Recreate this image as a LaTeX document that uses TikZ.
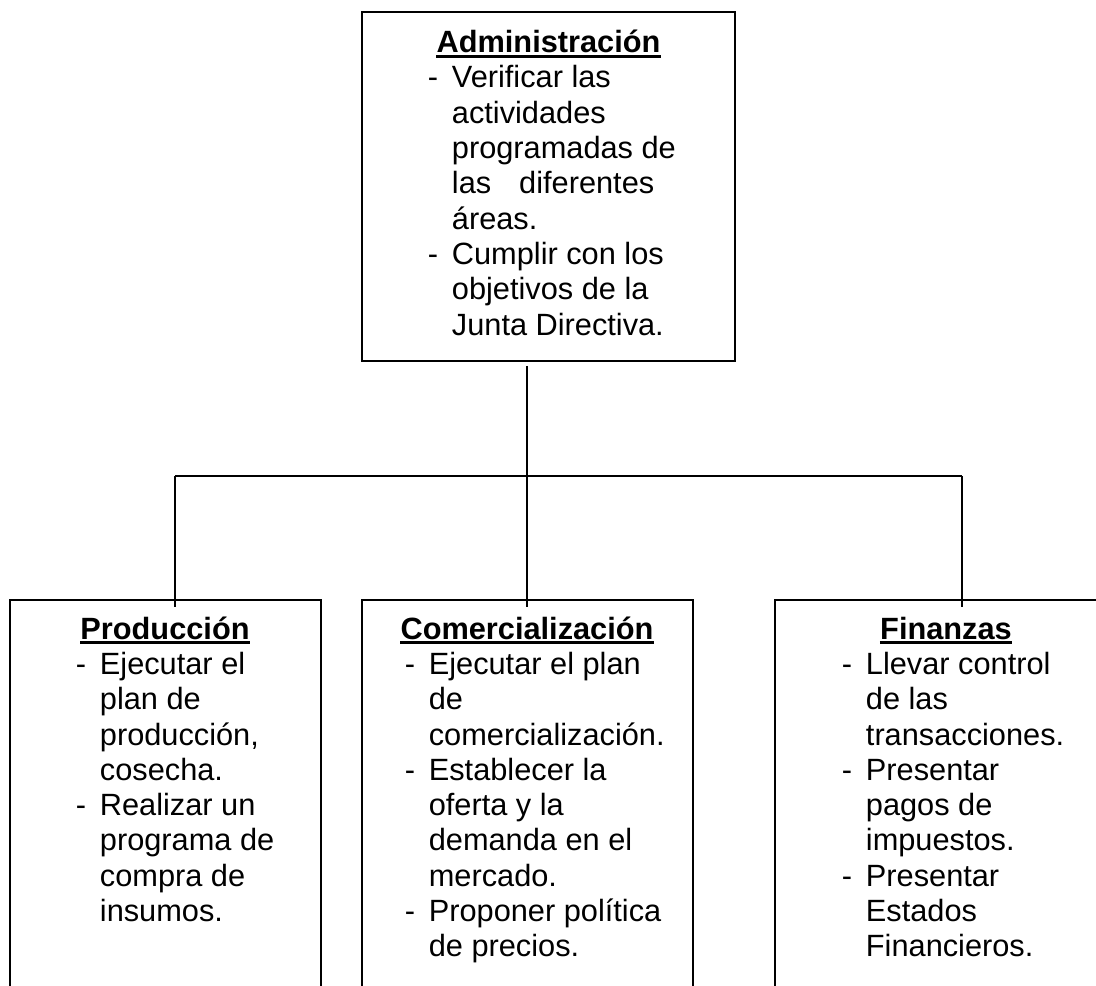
\documentclass[tikz,border=0pt]{standalone}
\usepackage{fontspec}
\setmainfont{Liberation Sans}
\usepackage{tikz}
\usetikzlibrary{calc}
\tikzset{
  caja/.style = {rectangle, draw=black, line width=1pt, inner sep=0pt,
    outer sep=0pt, anchor=north west},% recuadro de cada area
  titulo/.style = {anchor=base, inner sep=0pt,
    font=\fontsize{17.5}{20.1}\selectfont\bfseries},% nombre del area
  lista/.style = {anchor=base west, inner sep=0pt,
    font=\fontsize{17.5}{20.1}\selectfont},% funciones
  subraya/.style = {line width=1.4pt},
  rama/.style = {line width=0.8pt}
}
\newcommand{\guion}{\makebox[0.48cm][l]{-}}
\newcommand{\sangria}{\hspace*{0.48cm}}

\begin{document}
\begin{tikzpicture}[x=0.02cm, y=-0.02cm]
\useasboundingbox (0,0) rectangle (1096,986);
\clip (0,0) rectangle (1096,986);

% recuadros
\node [caja, minimum width=7.46cm, minimum height=6.98cm] (adm) at (362,12) {};
\node [caja, minimum width=6.22cm, minimum height=8.4cm] (prod) at (10,600) {};
\node [caja, minimum width=6.62cm, minimum height=8.4cm] (com) at (362,600) {};
\node [caja, minimum width=7cm, minimum height=8.4cm] (fin) at (775,600) {};

% titulos
\node [titulo] (adm_t) at (548.5,53) {Administración};
\node [titulo] (prod_t) at (165,639) {Producción};
\node [titulo] (com_t) at (527,639) {Comercialización};
\node [titulo] (fin_t) at (946,639) {Finanzas};
\draw [subraya] ([yshift=-1.9pt]adm_t.base west) -- ([yshift=-1.9pt]adm_t.base east);
\draw [subraya] ([yshift=-1.9pt]prod_t.base west) -- ([yshift=-1.9pt]prod_t.base east);
\draw [subraya] ([yshift=-1.9pt]com_t.base west) -- ([yshift=-1.9pt]com_t.base east);
\draw [subraya] ([yshift=-1.9pt]fin_t.base west) -- ([yshift=-1.9pt]fin_t.base east);

% funciones
\node [lista] (adm_l) at (427.6,88) {\begin{tabular}[t]{@{}l@{}}
  \guion Verificar las\\
  \sangria actividades\\
  \sangria programadas de\\
  \sangria las\hspace{0.56cm}diferentes\\
  \sangria áreas.\\
  \guion Cumplir con los\\
  \sangria objetivos de la\\
  \sangria Junta Directiva.
\end{tabular}};
\node [lista] (prod_l) at (75.6,674.4) {\begin{tabular}[t]{@{}l@{}}
  \guion Ejecutar el\\
  \sangria plan de\\
  \sangria producción,\\
  \sangria cosecha.\\
  \guion Realizar un\\
  \sangria programa de\\
  \sangria compra de\\
  \sangria insumos.
\end{tabular}};
\node [lista] (com_l) at (404.5,674.4) {\begin{tabular}[t]{@{}l@{}}
  \guion Ejecutar el plan\\
  \sangria de\\
  \sangria comercialización.\\
  \guion Establecer la\\
  \sangria oferta y la\\
  \sangria demanda en el\\
  \sangria mercado.\\
  \guion Proponer política\\
  \sangria de precios.
\end{tabular}};
\node [lista] (fin_l) at (841.6,674.4) {\begin{tabular}[t]{@{}l@{}}
  \guion Llevar control\\
  \sangria de las\\
  \sangria transacciones.\\
  \guion Presentar\\
  \sangria pagos de\\
  \sangria impuestos.\\
  \guion Presentar\\
  \sangria Estados\\
  \sangria Financieros.
\end{tabular}};

% conectores
\coordinate (cruce) at (527,476);
\coordinate (rama_p) at (175,476);
\coordinate (rama_f) at (962,476);
\draw [rama, shorten <=0.1cm] (adm.south -| cruce) -- (cruce);
\draw [rama] (rama_p) -- (rama_f);
\draw [rama, shorten >=-0.14cm] (rama_p) -- (rama_p |- prod.north);
\draw [rama, shorten >=-0.14cm] (cruce) -- (cruce |- com.north);
\draw [rama, shorten >=-0.14cm] (rama_f) -- (rama_f |- fin.north);
\end{tikzpicture}
\end{document}
